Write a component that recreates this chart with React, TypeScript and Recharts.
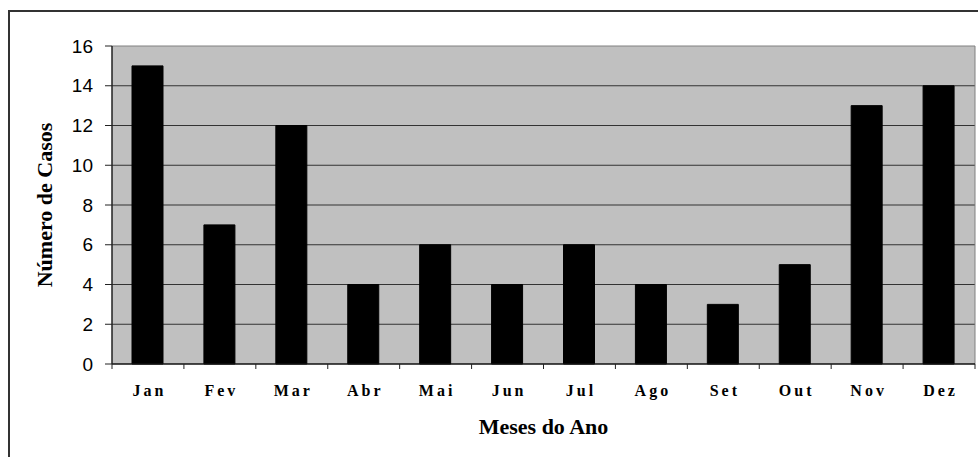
import { BarChart, Bar, XAxis, YAxis, CartesianGrid, Label } from 'recharts';

const months = ['Jan', 'Fev', 'Mar', 'Abr', 'Mai', 'Jun', 'Jul', 'Ago', 'Set', 'Out', 'Nov', 'Dez'];
const cases = [15, 7, 12, 4, 6, 4, 6, 4, 3, 5, 13, 14];
const yTicks = [0, 2, 4, 6, 8, 10, 12, 14, 16];
const innerGrid = [2, 4, 6, 8, 10, 12, 14];

const data = months.map((m, i) => ({ month: m, casos: cases[i] }));

const W = 978;
const H = 457;
const MARGIN = { top: 46, right: 3, bottom: 0, left: 0 };
const Y_W = 112;
const X_H = 93;
const half = (W - MARGIN.right - Y_W) / months.length / 2;

const serif = '"Liberation Serif", "Times New Roman", serif';

// month labels + tick marks at the category edges (not centres)
const MonthTick = ({ x, y, payload, index }: any) => (
  <g>
    <line x1={x - half} x2={x - half} y1={y - 5} y2={y} stroke="#222" />
    {index === months.length - 1 && (
      <line x1={x + half} x2={x + half} y1={y - 5} y2={y} stroke="#222" />
    )}
    <text
      x={x + 1.5}
      y={y}
      dy={27}
      textAnchor="middle"
      fontFamily={serif}
      fontWeight="bold"
      fontSize={16}
      letterSpacing={3}
      fill="#000"
    >
      {payload.value}
    </text>
  </g>
);

export default function App() {
  return (
    <div style={{ position: 'absolute', left: 0, top: 0, width: W, height: H }}>
      {/* outer frame, right/bottom edges fall outside the picture */}
      <div
        style={{
          position: 'absolute',
          left: 8,
          top: 10,
          width: W - 8,
          height: H - 10,
          boxSizing: 'border-box',
          borderLeft: '2px solid #333',
          borderTop: '2px solid #333',
        }}
      />
      <BarChart width={W} height={H} data={data} margin={MARGIN} style={{ position: 'absolute', left: 0, top: 0 }}>
        <CartesianGrid vertical={false} fill="#C0C0C0" stroke="#333" horizontalValues={innerGrid} />
        <CartesianGrid
          stroke="#808080"
          horizontalCoordinatesGenerator={({ offset }: any) => [offset.top]}
          verticalCoordinatesGenerator={({ offset }: any) => [offset.left + offset.width]}
        />
        <XAxis
          dataKey="month"
          height={X_H}
          tickSize={5}
          tickMargin={0}
          tickLine={false}
          axisLine={{ stroke: '#111', strokeWidth: 1.5 }}
          tick={<MonthTick />}
          interval={0}
        >
          <Label
            content={({ viewBox }: any) => (
              <text
                x={viewBox.x + viewBox.width / 2}
                y={viewBox.y + 70}
                textAnchor="middle"
                fontFamily={serif}
                fontWeight="bold"
                fontSize={22}
                fill="#000"
              >
                Meses do Ano
              </text>
            )}
          />
        </XAxis>
        <YAxis
          width={Y_W}
          domain={[0, 16]}
          ticks={yTicks}
          interval={0}
          tickSize={7}
          tickMargin={12}
          axisLine={{ stroke: '#222', strokeWidth: 1.5 }}
          tickLine={{ stroke: '#222' }}
          tick={{ fill: '#000', fontSize: 19, fontFamily: '"Liberation Sans", Arial, sans-serif' }}
        >
          <Label
            content={({ viewBox }: any) => {
              const cx = 44;
              const cy = viewBox.y + viewBox.height / 2;
              return (
                <text
                  x={cx}
                  y={cy}
                  dy="0.35em"
                  transform={`rotate(-90, ${cx}, ${cy})`}
                  textAnchor="middle"
                  fontFamily={serif}
                  fontWeight="bold"
                  fontSize={22}
                  fill="#000"
                >
                  Número de Casos
                </text>
              );
            }}
          />
        </YAxis>
        <Bar dataKey="casos" fill="#000" stroke="#000" barSize={31} isAnimationActive={false} />
      </BarChart>
    </div>
  );
}
